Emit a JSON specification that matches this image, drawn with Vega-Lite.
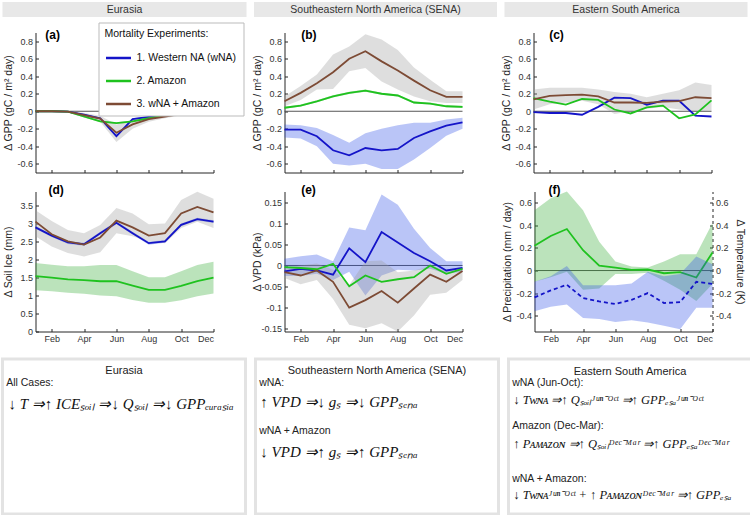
{
"$schema": "https://vega.github.io/schema/vega-lite/v6.json",
"padding": {"left": 0.5, "top": 2, "right": 0, "bottom": 0},
"background": "white",
"datasets": {
"a": [
{"m":1,"s":"wNA","v":0,"lo":-0.008,"hi":0.008},{"m":2,"s":"wNA","v":0,"lo":-0.008,"hi":0.008},{"m":3,"s":"wNA","v":-0.005,"lo":-0.013,"hi":0.003},{"m":4,"s":"wNA","v":-0.04,"lo":-0.048,"hi":-0.032},{"m":5,"s":"wNA","v":-0.08,"lo":-0.09,"hi":-0.07},{"m":6,"s":"wNA","v":-0.285,"lo":-0.3,"hi":-0.27},{"m":7,"s":"wNA","v":-0.09,"lo":-0.1,"hi":-0.08},{"m":8,"s":"wNA","v":-0.065,"lo":-0.073,"hi":-0.057},{"m":9,"s":"wNA","v":-0.045,"lo":-0.053,"hi":-0.037},{"m":10,"s":"wNA","v":-0.025,"lo":-0.033,"hi":-0.017},{"m":11,"s":"wNA","v":-0.005,"lo":-0.013,"hi":0.003},{"m":12,"s":"wNA","v":0,"lo":-0.008,"hi":0.008},
{"m":1,"s":"Amazon","v":0,"lo":-0.008,"hi":0.008},{"m":2,"s":"Amazon","v":0,"lo":-0.008,"hi":0.008},{"m":3,"s":"Amazon","v":-0.005,"lo":-0.013,"hi":0.003},{"m":4,"s":"Amazon","v":-0.06,"lo":-0.07,"hi":-0.05},{"m":5,"s":"Amazon","v":-0.115,"lo":-0.125,"hi":-0.105},{"m":6,"s":"Amazon","v":-0.135,"lo":-0.145,"hi":-0.125},{"m":7,"s":"Amazon","v":-0.115,"lo":-0.125,"hi":-0.105},{"m":8,"s":"Amazon","v":-0.08,"lo":-0.09,"hi":-0.07},{"m":9,"s":"Amazon","v":-0.05,"lo":-0.058,"hi":-0.042},{"m":10,"s":"Amazon","v":-0.02,"lo":-0.028,"hi":-0.012},{"m":11,"s":"Amazon","v":-0.005,"lo":-0.013,"hi":0.003},{"m":12,"s":"Amazon","v":0,"lo":-0.008,"hi":0.008},
{"m":1,"s":"wNA + Amazon","v":0,"lo":-0.005,"hi":0.005},{"m":2,"s":"wNA + Amazon","v":0,"lo":-0.005,"hi":0.005},{"m":3,"s":"wNA + Amazon","v":-0.005,"lo":-0.012,"hi":0.002},{"m":4,"s":"wNA + Amazon","v":-0.045,"lo":-0.07,"hi":-0.02},{"m":5,"s":"wNA + Amazon","v":-0.085,"lo":-0.12,"hi":-0.05},{"m":6,"s":"wNA + Amazon","v":-0.245,"lo":-0.35,"hi":-0.15},{"m":7,"s":"wNA + Amazon","v":-0.15,"lo":-0.2,"hi":-0.1},{"m":8,"s":"wNA + Amazon","v":-0.09,"lo":-0.12,"hi":-0.06},{"m":9,"s":"wNA + Amazon","v":-0.06,"lo":-0.08,"hi":-0.04},{"m":10,"s":"wNA + Amazon","v":-0.03,"lo":-0.045,"hi":-0.015},{"m":11,"s":"wNA + Amazon","v":-0.005,"lo":-0.012,"hi":0.002},{"m":12,"s":"wNA + Amazon","v":0,"lo":-0.005,"hi":0.005}
],
"b": [
{"m":1,"s":"wNA","v":-0.21,"lo":-0.3,"hi":-0.15},{"m":2,"s":"wNA","v":-0.21,"lo":-0.31,"hi":-0.16},{"m":3,"s":"wNA","v":-0.286,"lo":-0.4,"hi":-0.19},{"m":4,"s":"wNA","v":-0.446,"lo":-0.6,"hi":-0.27},{"m":5,"s":"wNA","v":-0.503,"lo":-0.62,"hi":-0.36},{"m":6,"s":"wNA","v":-0.42,"lo":-0.6,"hi":-0.25},{"m":7,"s":"wNA","v":-0.446,"lo":-0.66,"hi":-0.2},{"m":8,"s":"wNA","v":-0.43,"lo":-0.66,"hi":-0.16},{"m":9,"s":"wNA","v":-0.305,"lo":-0.55,"hi":-0.13},{"m":10,"s":"wNA","v":-0.23,"lo":-0.42,"hi":-0.13},{"m":11,"s":"wNA","v":-0.164,"lo":-0.28,"hi":-0.095},{"m":12,"s":"wNA","v":-0.126,"lo":-0.2,"hi":-0.075},
{"m":1,"s":"Amazon","v":0.04,"lo":0.028,"hi":0.052},{"m":2,"s":"Amazon","v":0.065,"lo":0.053,"hi":0.077},{"m":3,"s":"Amazon","v":0.114,"lo":0.102,"hi":0.126},{"m":4,"s":"Amazon","v":0.17,"lo":0.158,"hi":0.182},{"m":5,"s":"Amazon","v":0.21,"lo":0.198,"hi":0.222},{"m":6,"s":"Amazon","v":0.236,"lo":0.224,"hi":0.248},{"m":7,"s":"Amazon","v":0.2,"lo":0.188,"hi":0.212},{"m":8,"s":"Amazon","v":0.18,"lo":0.168,"hi":0.192},{"m":9,"s":"Amazon","v":0.1,"lo":0.088,"hi":0.112},{"m":10,"s":"Amazon","v":0.088,"lo":0.076,"hi":0.1},{"m":11,"s":"Amazon","v":0.057,"lo":0.045,"hi":0.069},{"m":12,"s":"Amazon","v":0.05,"lo":0.038,"hi":0.062},
{"m":1,"s":"wNA + Amazon","v":0.114,"lo":0.057,"hi":0.17},{"m":2,"s":"wNA + Amazon","v":0.21,"lo":0.13,"hi":0.29},{"m":3,"s":"wNA + Amazon","v":0.32,"lo":0.25,"hi":0.42},{"m":4,"s":"wNA + Amazon","v":0.446,"lo":0.255,"hi":0.65},{"m":5,"s":"wNA + Amazon","v":0.6,"lo":0.457,"hi":0.74},{"m":6,"s":"wNA + Amazon","v":0.686,"lo":0.495,"hi":0.88},{"m":7,"s":"wNA + Amazon","v":0.57,"lo":0.34,"hi":0.82},{"m":8,"s":"wNA + Amazon","v":0.465,"lo":0.25,"hi":0.7},{"m":9,"s":"wNA + Amazon","v":0.35,"lo":0.17,"hi":0.5},{"m":10,"s":"wNA + Amazon","v":0.24,"lo":0.114,"hi":0.36},{"m":11,"s":"wNA + Amazon","v":0.164,"lo":0.095,"hi":0.23},{"m":12,"s":"wNA + Amazon","v":0.164,"lo":0.095,"hi":0.23}
],
"c": [
{"m":1,"s":"wNA","v":-0.01},{"m":2,"s":"wNA","v":-0.02},{"m":3,"s":"wNA","v":-0.02},{"m":4,"s":"wNA","v":-0.04},{"m":5,"s":"wNA","v":0.05},{"m":6,"s":"wNA","v":0.155},{"m":7,"s":"wNA","v":0.15},{"m":8,"s":"wNA","v":0.075},{"m":9,"s":"wNA","v":0.12},{"m":10,"s":"wNA","v":0.12},{"m":11,"s":"wNA","v":-0.05},{"m":12,"s":"wNA","v":-0.06},
{"m":1,"s":"Amazon","v":0.15},{"m":2,"s":"Amazon","v":0.11},{"m":3,"s":"Amazon","v":0.075},{"m":4,"s":"Amazon","v":0.14},{"m":5,"s":"Amazon","v":0.13},{"m":6,"s":"Amazon","v":0.02},{"m":7,"s":"Amazon","v":-0.025},{"m":8,"s":"Amazon","v":0.045},{"m":9,"s":"Amazon","v":0.065},{"m":10,"s":"Amazon","v":-0.08},{"m":11,"s":"Amazon","v":-0.035},{"m":12,"s":"Amazon","v":0.125},
{"m":1,"s":"wNA + Amazon","v":0.135,"lo":0.02,"hi":0.25},{"m":2,"s":"wNA + Amazon","v":0.175,"lo":0.08,"hi":0.27},{"m":3,"s":"wNA + Amazon","v":0.185,"lo":0.1,"hi":0.27},{"m":4,"s":"wNA + Amazon","v":0.19,"lo":0.12,"hi":0.27},{"m":5,"s":"wNA + Amazon","v":0.17,"lo":0.08,"hi":0.25},{"m":6,"s":"wNA + Amazon","v":0.1,"lo":-0.03,"hi":0.22},{"m":7,"s":"wNA + Amazon","v":0.1,"lo":0.0,"hi":0.2},{"m":8,"s":"wNA + Amazon","v":0.095,"lo":0.03,"hi":0.16},{"m":9,"s":"wNA + Amazon","v":0.11,"lo":0.05,"hi":0.2},{"m":10,"s":"wNA + Amazon","v":0.115,"lo":0.02,"hi":0.24},{"m":11,"s":"wNA + Amazon","v":0.16,"lo":0.0,"hi":0.33},{"m":12,"s":"wNA + Amazon","v":0.15,"lo":0.01,"hi":0.3}
],
"d": [
{"m":1,"s":"wNA","v":2.9,"lo":2.86,"hi":2.94},{"m":2,"s":"wNA","v":2.67,"lo":2.63,"hi":2.71},{"m":3,"s":"wNA","v":2.48,"lo":2.44,"hi":2.52},{"m":4,"s":"wNA","v":2.43,"lo":2.39,"hi":2.47},{"m":5,"s":"wNA","v":2.74,"lo":2.7,"hi":2.78},{"m":6,"s":"wNA","v":3.03,"lo":2.99,"hi":3.07},{"m":7,"s":"wNA","v":2.74,"lo":2.7,"hi":2.78},{"m":8,"s":"wNA","v":2.46,"lo":2.42,"hi":2.5},{"m":9,"s":"wNA","v":2.51,"lo":2.47,"hi":2.55},{"m":10,"s":"wNA","v":2.97,"lo":2.93,"hi":3.01},{"m":11,"s":"wNA","v":3.13,"lo":3.09,"hi":3.17},{"m":12,"s":"wNA","v":3.06,"lo":3.02,"hi":3.1},
{"m":1,"s":"Amazon","v":1.54,"lo":1.15,"hi":1.91},{"m":2,"s":"Amazon","v":1.5,"lo":1.12,"hi":1.86},{"m":3,"s":"Amazon","v":1.45,"lo":1.08,"hi":1.82},{"m":4,"s":"Amazon","v":1.43,"lo":1.05,"hi":1.82},{"m":5,"s":"Amazon","v":1.4,"lo":1.0,"hi":1.85},{"m":6,"s":"Amazon","v":1.4,"lo":0.98,"hi":1.85},{"m":7,"s":"Amazon","v":1.28,"lo":0.88,"hi":1.68},{"m":8,"s":"Amazon","v":1.16,"lo":0.8,"hi":1.51},{"m":9,"s":"Amazon","v":1.16,"lo":0.8,"hi":1.51},{"m":10,"s":"Amazon","v":1.27,"lo":0.87,"hi":1.68},{"m":11,"s":"Amazon","v":1.4,"lo":0.98,"hi":1.85},{"m":12,"s":"Amazon","v":1.5,"lo":1.06,"hi":1.94},
{"m":1,"s":"wNA + Amazon","v":3.06,"lo":2.65,"hi":3.38},{"m":2,"s":"wNA + Amazon","v":2.71,"lo":2.37,"hi":3.08},{"m":3,"s":"wNA + Amazon","v":2.51,"lo":2.19,"hi":2.83},{"m":4,"s":"wNA + Amazon","v":2.42,"lo":2.09,"hi":2.74},{"m":5,"s":"wNA + Amazon","v":2.62,"lo":2.21,"hi":2.97},{"m":6,"s":"wNA + Amazon","v":3.09,"lo":2.74,"hi":3.44},{"m":7,"s":"wNA + Amazon","v":2.9,"lo":2.65,"hi":3.29},{"m":8,"s":"wNA + Amazon","v":2.67,"lo":2.51,"hi":2.99},{"m":9,"s":"wNA + Amazon","v":2.74,"lo":2.46,"hi":3.01},{"m":10,"s":"wNA + Amazon","v":3.29,"lo":2.88,"hi":3.66},{"m":11,"s":"wNA + Amazon","v":3.47,"lo":3.06,"hi":3.89},{"m":12,"s":"wNA + Amazon","v":3.32,"lo":2.88,"hi":3.7}
],
"e": [
{"m":1,"s":"wNA","v":-0.014,"lo":-0.025,"hi":0.016},{"m":2,"s":"wNA","v":-0.008,"lo":-0.025,"hi":0.022},{"m":3,"s":"wNA","v":-0.012,"lo":-0.02,"hi":0.026},{"m":4,"s":"wNA","v":-0.022,"lo":-0.035,"hi":0.01},{"m":5,"s":"wNA","v":0.041,"lo":-0.015,"hi":0.091},{"m":6,"s":"wNA","v":0.008,"lo":-0.072,"hi":0.084},{"m":7,"s":"wNA","v":0.08,"lo":-0.024,"hi":0.17},{"m":8,"s":"wNA","v":0.055,"lo":-0.01,"hi":0.145},{"m":9,"s":"wNA","v":0.03,"lo":-0.012,"hi":0.088},{"m":10,"s":"wNA","v":0.01,"lo":-0.008,"hi":0.042},{"m":11,"s":"wNA","v":-0.012,"lo":-0.02,"hi":0.01},{"m":12,"s":"wNA","v":-0.006,"lo":-0.015,"hi":0.01},
{"m":1,"s":"Amazon","v":-0.004},{"m":2,"s":"Amazon","v":-0.006},{"m":3,"s":"Amazon","v":-0.009},{"m":4,"s":"Amazon","v":0.004},{"m":5,"s":"Amazon","v":-0.05},{"m":6,"s":"Amazon","v":-0.024},{"m":7,"s":"Amazon","v":-0.039},{"m":8,"s":"Amazon","v":-0.033},{"m":9,"s":"Amazon","v":-0.028},{"m":10,"s":"Amazon","v":0.0},{"m":11,"s":"Amazon","v":-0.02},{"m":12,"s":"Amazon","v":-0.008},
{"m":1,"s":"wNA + Amazon","v":-0.016,"lo":-0.03,"hi":-0.005},{"m":2,"s":"wNA + Amazon","v":-0.024,"lo":-0.045,"hi":0.0},{"m":3,"s":"wNA + Amazon","v":-0.012,"lo":-0.035,"hi":0.005},{"m":4,"s":"wNA + Amazon","v":-0.039,"lo":-0.08,"hi":-0.01},{"m":5,"s":"wNA + Amazon","v":-0.101,"lo":-0.142,"hi":-0.047},{"m":6,"s":"wNA + Amazon","v":-0.083,"lo":-0.15,"hi":0.01},{"m":7,"s":"wNA + Amazon","v":-0.061,"lo":-0.138,"hi":0.012},{"m":8,"s":"wNA + Amazon","v":-0.089,"lo":-0.158,"hi":-0.016},{"m":9,"s":"wNA + Amazon","v":-0.055,"lo":-0.12,"hi":-0.012},{"m":10,"s":"wNA + Amazon","v":-0.022,"lo":-0.07,"hi":-0.002},{"m":11,"s":"wNA + Amazon","v":-0.039,"lo":-0.065,"hi":-0.012},{"m":12,"s":"wNA + Amazon","v":-0.013,"lo":-0.035,"hi":-0.004}
],
"f": [
{"m":1,"s":"Amazon","v":0.22,"lo":-0.1,"hi":0.535},{"m":2,"s":"Amazon","v":0.306,"lo":-0.06,"hi":0.64},{"m":3,"s":"Amazon","v":0.368,"lo":-0.01,"hi":0.7},{"m":4,"s":"Amazon","v":0.18,"lo":-0.17,"hi":0.535},{"m":5,"s":"Amazon","v":0.044,"lo":-0.16,"hi":0.256},{"m":6,"s":"Amazon","v":0.026,"lo":-0.03,"hi":0.08},{"m":7,"s":"Amazon","v":0.006,"lo":-0.03,"hi":0.035},{"m":8,"s":"Amazon","v":0.009,"lo":-0.02,"hi":0.026},{"m":9,"s":"Amazon","v":-0.024,"lo":-0.09,"hi":0.08},{"m":10,"s":"Amazon","v":-0.015,"lo":-0.17,"hi":0.144},{"m":11,"s":"Amazon","v":-0.062,"lo":-0.27,"hi":0.144},{"m":12,"s":"Amazon","v":0.16,"lo":-0.12,"hi":0.42},
{"m":1,"s":"wNA","v":-0.238,"lo":-0.36,"hi":-0.1},{"m":2,"s":"wNA","v":-0.176,"lo":-0.32,"hi":-0.05},{"m":3,"s":"wNA","v":-0.126,"lo":-0.3,"hi":0.04},{"m":4,"s":"wNA","v":-0.244,"lo":-0.42,"hi":-0.13},{"m":5,"s":"wNA","v":-0.274,"lo":-0.43,"hi":-0.13},{"m":6,"s":"wNA","v":-0.297,"lo":-0.455,"hi":-0.13},{"m":7,"s":"wNA","v":-0.26,"lo":-0.44,"hi":-0.115},{"m":8,"s":"wNA","v":-0.2,"lo":-0.46,"hi":-0.01},{"m":9,"s":"wNA","v":-0.288,"lo":-0.49,"hi":-0.05},{"m":10,"s":"wNA","v":-0.28,"lo":-0.52,"hi":-0.03},{"m":11,"s":"wNA","v":-0.1,"lo":-0.33,"hi":0.125},{"m":12,"s":"wNA","v":-0.118,"lo":-0.33,"hi":0.055}
]
},
"vconcat": [
{"vconcat": [
 {"hconcat": [
  {"width": 244, "height": 15, "view": {"fill": "#e8e8e8", "stroke": null},
   "data": {"values": [{"t": "Eurasia"}]},
   "mark": {"type": "text", "fontSize": 10.5, "color": "#333"},
   "encoding": {"x": {"datum": 0.5, "type": "quantitative", "scale": {"domain": [0, 1]}, "axis": null}, "y": {"datum": 0.5, "type": "quantitative", "scale": {"domain": [0, 1]}, "axis": null}, "text": {"field": "t"}}},
  {"width": 243, "height": 15, "view": {"fill": "#e8e8e8", "stroke": null},
   "data": {"values": [{"t": "Southeastern North America (SENA)"}]},
   "mark": {"type": "text", "fontSize": 10.5, "color": "#333"},
   "encoding": {"x": {"datum": 0.5, "type": "quantitative", "scale": {"domain": [0, 1]}, "axis": null}, "y": {"datum": 0.5, "type": "quantitative", "scale": {"domain": [0, 1]}, "axis": null}, "text": {"field": "t"}}},
  {"width": 243, "height": 15, "view": {"fill": "#e8e8e8", "stroke": null},
   "data": {"values": [{"t": "Eastern South America"}]},
   "mark": {"type": "text", "fontSize": 10.5, "color": "#333"},
   "encoding": {"x": {"datum": 0.5, "type": "quantitative", "scale": {"domain": [0, 1]}, "axis": null}, "y": {"datum": 0.5, "type": "quantitative", "scale": {"domain": [0, 1]}, "axis": null}, "text": {"field": "t"}}}
 ], "spacing": 7.5},
 {"concat": [
  {"hconcat": [
   {"width": 1, "height": 140, "data": {"values": []}, "mark": "rect"},
   {"width": 178, "height": 140, "data": {"name": "a"},
   "layer": [
    {"data": {"values": [{"z": 0}]}, "mark": {"type": "rule", "color": "#555", "strokeWidth": 1},
     "encoding": {"y": {"field": "z", "type": "quantitative", "scale": {"domain": [-0.7, 0.9], "nice": false}, "axis": {"values": [-0.6,-0.4,-0.2,0,0.2,0.4,0.6,0.8], "labelExpr": "'' + datum.value", "title": "Δ GPP (gC / m² day)"}}}},
    {"transform": [{"filter": "isValid(datum.lo)"}], "mark": {"type": "area", "fillOpacity": 0.33},
     "encoding": {"x": {"field": "m", "type": "quantitative", "scale": {"domain": [1, 12], "nice": false}, "axis": {"values": [2,4,6,8,10,12], "labels": false, "title": null}},
      "y": {"field": "lo", "type": "quantitative", "scale": {"domain": [-0.7, 0.9], "nice": false}, "axis": {"values": [-0.6,-0.4,-0.2,0,0.2,0.4,0.6,0.8], "labelExpr": "'' + datum.value", "title": "Δ GPP (gC / m² day)"}}, "y2": {"field": "hi"},
      "fill": {"field": "s", "type": "nominal", "scale": {"domain": ["wNA", "Amazon", "wNA + Amazon"], "range": ["#2f50e6", "#30aa30", "#9a9a9a"]}, "legend": null}}},
    {"mark": {"type": "line", "strokeWidth": 1.8},
     "encoding": {"x": {"field": "m", "type": "quantitative", "scale": {"domain": [1, 12], "nice": false}, "axis": {"values": [2,4,6,8,10,12], "labels": false, "title": null}},
      "y": {"field": "v", "type": "quantitative", "scale": {"domain": [-0.7, 0.9], "nice": false}, "axis": {"values": [-0.6,-0.4,-0.2,0,0.2,0.4,0.6,0.8], "labelExpr": "'' + datum.value", "title": "Δ GPP (gC / m² day)"}},
      "color": {"field": "s", "type": "nominal", "scale": {"domain": ["wNA", "Amazon", "wNA + Amazon"], "range": ["#1414c8", "#1fc21f", "#7d4b35"]},
       "legend": {"orient": "none", "legendX": 63, "legendY": -10, "title": "Mortality Experiments:", "labelExpr": "datum.label == 'wNA' ? '1. Western NA (wNA)' : datum.label == 'Amazon' ? '2. Amazon' : '3. wNA + Amazon'", "titleFontSize": 10.5, "titleFontWeight": "normal", "titleColor": "#111", "labelFontSize": 10.5, "labelColor": "#111", "symbolType": "stroke", "symbolStrokeWidth": 2.5, "symbolSize": 625, "padding": 6, "fillColor": "white", "strokeColor": "#bbbbbb", "rowPadding": 3, "titlePadding": 5, "labelOffset": 4}}}},
    {"data": {"values": [{"t": "(a)"}]}, "mark": {"type": "text", "fontSize": 12, "fontWeight": "bold", "align": "left", "baseline": "middle", "color": "black"},
     "encoding": {"x": {"datum": 1.6, "type": "quantitative", "scale": {"domain": [1, 12], "nice": false}, "axis": {"values": [2,4,6,8,10,12], "labels": false, "title": null}}, "y": {"datum": 0.877, "type": "quantitative", "scale": {"domain": [-0.7, 0.9], "nice": false}, "axis": {"values": [-0.6,-0.4,-0.2,0,0.2,0.4,0.6,0.8], "labelExpr": "'' + datum.value", "title": "Δ GPP (gC / m² day)"}}, "text": {"field": "t"}}}
   ]}
  ], "spacing": 0, "resolve": {"scale": {"color": "independent"}, "legend": {"color": "independent"}}},
  {"hconcat": [
   {"width": 1, "height": 140, "data": {"values": []}, "mark": "rect"},
   {"width": 178, "height": 140, "data": {"name": "b"},
   "layer": [
    {"data": {"values": [{"z": 0}]}, "mark": {"type": "rule", "color": "#555", "strokeWidth": 1},
     "encoding": {"y": {"field": "z", "type": "quantitative", "scale": {"domain": [-0.7, 0.9], "nice": false}, "axis": {"values": [-0.6,-0.4,-0.2,0,0.2,0.4,0.6,0.8], "labelExpr": "'' + datum.value", "title": "Δ GPP (gC / m² day)"}}}},
    {"transform": [{"filter": "isValid(datum.lo)"}], "mark": {"type": "area", "fillOpacity": 0.33},
     "encoding": {"x": {"field": "m", "type": "quantitative", "scale": {"domain": [1, 12], "nice": false}, "axis": {"values": [2,4,6,8,10,12], "labels": false, "title": null}},
      "y": {"field": "lo", "type": "quantitative", "scale": {"domain": [-0.7, 0.9], "nice": false}, "axis": {"values": [-0.6,-0.4,-0.2,0,0.2,0.4,0.6,0.8], "labelExpr": "'' + datum.value", "title": "Δ GPP (gC / m² day)"}}, "y2": {"field": "hi"},
      "fill": {"field": "s", "type": "nominal", "scale": {"domain": ["wNA", "Amazon", "wNA + Amazon"], "range": ["#2f50e6", "#30aa30", "#9a9a9a"]}, "legend": null}}},
    {"mark": {"type": "line", "strokeWidth": 1.8},
     "encoding": {"x": {"field": "m", "type": "quantitative", "scale": {"domain": [1, 12], "nice": false}, "axis": {"values": [2,4,6,8,10,12], "labels": false, "title": null}},
      "y": {"field": "v", "type": "quantitative", "scale": {"domain": [-0.7, 0.9], "nice": false}, "axis": {"values": [-0.6,-0.4,-0.2,0,0.2,0.4,0.6,0.8], "labelExpr": "'' + datum.value", "title": "Δ GPP (gC / m² day)"}},
      "stroke": {"field": "s", "type": "nominal", "scale": {"domain": ["wNA", "Amazon", "wNA + Amazon"], "range": ["#1414c8", "#1fc21f", "#7d4b35"]}, "legend": null}}},
    {"data": {"values": [{"t": "(b)"}]}, "mark": {"type": "text", "fontSize": 12, "fontWeight": "bold", "align": "left", "baseline": "middle", "color": "black"},
     "encoding": {"x": {"datum": 2.03, "type": "quantitative", "scale": {"domain": [1, 12], "nice": false}, "axis": {"values": [2,4,6,8,10,12], "labels": false, "title": null}}, "y": {"datum": 0.877, "type": "quantitative", "scale": {"domain": [-0.7, 0.9], "nice": false}, "axis": {"values": [-0.6,-0.4,-0.2,0,0.2,0.4,0.6,0.8], "labelExpr": "'' + datum.value", "title": "Δ GPP (gC / m² day)"}}, "text": {"field": "t"}}}
   ]}
  ], "spacing": 0},
  {"hconcat": [
   {"width": 1, "height": 140, "data": {"values": []}, "mark": "rect"},
   {"width": 178, "height": 140, "data": {"name": "c"},
   "layer": [
    {"data": {"values": [{"z": 0}]}, "mark": {"type": "rule", "color": "#555", "strokeWidth": 1},
     "encoding": {"y": {"field": "z", "type": "quantitative", "scale": {"domain": [-0.7, 0.9], "nice": false}, "axis": {"values": [-0.6,-0.4,-0.2,0,0.2,0.4,0.6,0.8], "labelExpr": "'' + datum.value", "title": "Δ GPP (gC / m² day)"}}}},
    {"transform": [{"filter": "isValid(datum.lo)"}], "mark": {"type": "area", "fillOpacity": 0.33},
     "encoding": {"x": {"field": "m", "type": "quantitative", "scale": {"domain": [1, 12], "nice": false}, "axis": {"values": [2,4,6,8,10,12], "labels": false, "title": null}},
      "y": {"field": "lo", "type": "quantitative", "scale": {"domain": [-0.7, 0.9], "nice": false}, "axis": {"values": [-0.6,-0.4,-0.2,0,0.2,0.4,0.6,0.8], "labelExpr": "'' + datum.value", "title": "Δ GPP (gC / m² day)"}}, "y2": {"field": "hi"},
      "fill": {"field": "s", "type": "nominal", "scale": {"domain": ["wNA", "Amazon", "wNA + Amazon"], "range": ["#2f50e6", "#30aa30", "#9a9a9a"]}, "legend": null}}},
    {"mark": {"type": "line", "strokeWidth": 1.8},
     "encoding": {"x": {"field": "m", "type": "quantitative", "scale": {"domain": [1, 12], "nice": false}, "axis": {"values": [2,4,6,8,10,12], "labels": false, "title": null}},
      "y": {"field": "v", "type": "quantitative", "scale": {"domain": [-0.7, 0.9], "nice": false}, "axis": {"values": [-0.6,-0.4,-0.2,0,0.2,0.4,0.6,0.8], "labelExpr": "'' + datum.value", "title": "Δ GPP (gC / m² day)"}},
      "stroke": {"field": "s", "type": "nominal", "scale": {"domain": ["wNA", "Amazon", "wNA + Amazon"], "range": ["#1414c8", "#1fc21f", "#7d4b35"]}, "legend": null}}},
    {"data": {"values": [{"t": "(c)"}]}, "mark": {"type": "text", "fontSize": 12, "fontWeight": "bold", "align": "left", "baseline": "middle", "color": "black"},
     "encoding": {"x": {"datum": 1.97, "type": "quantitative", "scale": {"domain": [1, 12], "nice": false}, "axis": {"values": [2,4,6,8,10,12], "labels": false, "title": null}}, "y": {"datum": 0.877, "type": "quantitative", "scale": {"domain": [-0.7, 0.9], "nice": false}, "axis": {"values": [-0.6,-0.4,-0.2,0,0.2,0.4,0.6,0.8], "labelExpr": "'' + datum.value", "title": "Δ GPP (gC / m² day)"}}, "text": {"field": "t"}}}
   ]}
  ], "spacing": 0},
  {"hconcat": [
   {"width": 1, "height": 140, "data": {"values": []}, "mark": "rect"},
   {"width": 178, "height": 140, "data": {"name": "d"},
   "layer": [
    {"transform": [{"filter": "isValid(datum.lo)"}], "mark": {"type": "area", "fillOpacity": 0.33},
     "encoding": {"x": {"field": "m", "type": "quantitative", "scale": {"domain": [1, 12], "nice": false}, "axis": {"values": [2,4,6,8,10,12], "labelExpr": "['','Jan','Feb','Mar','Apr','May','Jun','Jul','Aug','Sep','Oct','Nov','Dec'][datum.value]", "title": null}},
      "y": {"field": "lo", "type": "quantitative", "scale": {"domain": [0, 3.9], "nice": false}, "axis": {"values": [0,0.5,1,1.5,2,2.5,3,3.5], "labelExpr": "'' + datum.value", "title": "Δ Soil Ice (mm)"}}, "y2": {"field": "hi"},
      "fill": {"field": "s", "type": "nominal", "scale": {"domain": ["wNA", "Amazon", "wNA + Amazon"], "range": ["#2f50e6", "#30aa30", "#9a9a9a"]}, "legend": null}}},
    {"mark": {"type": "line", "strokeWidth": 1.8},
     "encoding": {"x": {"field": "m", "type": "quantitative", "scale": {"domain": [1, 12], "nice": false}, "axis": {"values": [2,4,6,8,10,12], "labelExpr": "['','Jan','Feb','Mar','Apr','May','Jun','Jul','Aug','Sep','Oct','Nov','Dec'][datum.value]", "title": null}},
      "y": {"field": "v", "type": "quantitative", "scale": {"domain": [0, 3.9], "nice": false}, "axis": {"values": [0,0.5,1,1.5,2,2.5,3,3.5], "labelExpr": "'' + datum.value", "title": "Δ Soil Ice (mm)"}},
      "stroke": {"field": "s", "type": "nominal", "scale": {"domain": ["wNA", "Amazon", "wNA + Amazon"], "range": ["#1414c8", "#1fc21f", "#7d4b35"]}, "legend": null}}},
    {"data": {"values": [{"t": "(d)"}]}, "mark": {"type": "text", "fontSize": 12, "fontWeight": "bold", "align": "left", "baseline": "middle", "color": "black"},
     "encoding": {"x": {"datum": 1.8, "type": "quantitative", "scale": {"domain": [1, 12], "nice": false}, "axis": {"values": [2,4,6,8,10,12], "labelExpr": "['','Jan','Feb','Mar','Apr','May','Jun','Jul','Aug','Sep','Oct','Nov','Dec'][datum.value]", "title": null}}, "y": {"datum": 3.94, "type": "quantitative", "scale": {"domain": [0, 3.9], "nice": false}, "axis": {"values": [0,0.5,1,1.5,2,2.5,3,3.5], "labelExpr": "'' + datum.value", "title": "Δ Soil Ice (mm)"}}, "text": {"field": "t"}}}
   ]}
  ], "spacing": 0},
  {"hconcat": [
   {"width": 1, "height": 140, "data": {"values": []}, "mark": "rect"},
   {"width": 178, "height": 140, "data": {"name": "e"},
   "layer": [
    {"data": {"values": [{"z": 0}]}, "mark": {"type": "rule", "color": "#555", "strokeWidth": 1},
     "encoding": {"y": {"field": "z", "type": "quantitative", "scale": {"domain": [-0.158, 0.177], "nice": false}, "axis": {"values": [-0.15,-0.1,-0.05,0,0.05,0.1,0.15], "labelExpr": "'' + datum.value", "title": "Δ VPD (kPa)"}}}},
    {"transform": [{"filter": "isValid(datum.lo)"}], "mark": {"type": "area", "fillOpacity": 0.33},
     "encoding": {"x": {"field": "m", "type": "quantitative", "scale": {"domain": [1, 12], "nice": false}, "axis": {"values": [2,4,6,8,10,12], "labelExpr": "['','Jan','Feb','Mar','Apr','May','Jun','Jul','Aug','Sep','Oct','Nov','Dec'][datum.value]", "title": null}},
      "y": {"field": "lo", "type": "quantitative", "scale": {"domain": [-0.158, 0.177], "nice": false}, "axis": {"values": [-0.15,-0.1,-0.05,0,0.05,0.1,0.15], "labelExpr": "'' + datum.value", "title": "Δ VPD (kPa)"}}, "y2": {"field": "hi"},
      "fill": {"field": "s", "type": "nominal", "scale": {"domain": ["wNA", "Amazon", "wNA + Amazon"], "range": ["#2f50e6", "#30aa30", "#9a9a9a"]}, "legend": null}}},
    {"mark": {"type": "line", "strokeWidth": 1.8},
     "encoding": {"x": {"field": "m", "type": "quantitative", "scale": {"domain": [1, 12], "nice": false}, "axis": {"values": [2,4,6,8,10,12], "labelExpr": "['','Jan','Feb','Mar','Apr','May','Jun','Jul','Aug','Sep','Oct','Nov','Dec'][datum.value]", "title": null}},
      "y": {"field": "v", "type": "quantitative", "scale": {"domain": [-0.158, 0.177], "nice": false}, "axis": {"values": [-0.15,-0.1,-0.05,0,0.05,0.1,0.15], "labelExpr": "'' + datum.value", "title": "Δ VPD (kPa)"}},
      "stroke": {"field": "s", "type": "nominal", "scale": {"domain": ["wNA", "Amazon", "wNA + Amazon"], "range": ["#1414c8", "#1fc21f", "#7d4b35"]}, "legend": null}}},
    {"data": {"values": [{"t": "(e)"}]}, "mark": {"type": "text", "fontSize": 12, "fontWeight": "bold", "align": "left", "baseline": "middle", "color": "black"},
     "encoding": {"x": {"datum": 2.03, "type": "quantitative", "scale": {"domain": [1, 12], "nice": false}, "axis": {"values": [2,4,6,8,10,12], "labelExpr": "['','Jan','Feb','Mar','Apr','May','Jun','Jul','Aug','Sep','Oct','Nov','Dec'][datum.value]", "title": null}}, "y": {"datum": 0.18, "type": "quantitative", "scale": {"domain": [-0.158, 0.177], "nice": false}, "axis": {"values": [-0.15,-0.1,-0.05,0,0.05,0.1,0.15], "labelExpr": "'' + datum.value", "title": "Δ VPD (kPa)"}}, "text": {"field": "t"}}}
   ]}
  ], "spacing": 0},
  {"hconcat": [
   {"width": 1, "height": 140, "data": {"values": []}, "mark": "rect"},
   {"width": 178, "height": 140, "data": {"name": "f"},
   "layer": [
    {"layer": [
      {"data": {"values": [{"z": 0}]}, "mark": {"type": "rule", "color": "#555", "strokeWidth": 1},
       "encoding": {"y": {"field": "z", "type": "quantitative", "scale": {"domain": [-0.54, 0.7], "nice": false}, "axis": {"values": [-0.4,-0.2,0,0.2,0.4,0.6], "labelExpr": "'' + datum.value", "title": "Δ Precipitation (mm / day)"}}}},
      {"transform": [{"filter": "datum.s == 'Amazon'"}], "mark": {"type": "area", "fillOpacity": 0.33},
       "encoding": {"x": {"field": "m", "type": "quantitative", "scale": {"domain": [1, 12], "nice": false}, "axis": {"values": [2,4,6,8,10,12], "labelExpr": "['','Jan','Feb','Mar','Apr','May','Jun','Jul','Aug','Sep','Oct','Nov','Dec'][datum.value]", "title": null}},
        "y": {"field": "lo", "type": "quantitative", "scale": {"domain": [-0.54, 0.7], "nice": false}, "axis": {"values": [-0.4,-0.2,0,0.2,0.4,0.6], "labelExpr": "'' + datum.value", "title": "Δ Precipitation (mm / day)"}}, "y2": {"field": "hi"},
        "fill": {"field": "s", "type": "nominal", "scale": {"domain": ["wNA", "Amazon", "wNA + Amazon"], "range": ["#2f50e6", "#30aa30", "#9a9a9a"]}, "legend": null}}},
      {"transform": [{"filter": "datum.s == 'Amazon'"}], "mark": {"type": "line", "strokeWidth": 1.8},
       "encoding": {"x": {"field": "m", "type": "quantitative", "scale": {"domain": [1, 12], "nice": false}, "axis": {"values": [2,4,6,8,10,12], "labelExpr": "['','Jan','Feb','Mar','Apr','May','Jun','Jul','Aug','Sep','Oct','Nov','Dec'][datum.value]", "title": null}},
        "y": {"field": "v", "type": "quantitative", "scale": {"domain": [-0.54, 0.7], "nice": false}, "axis": {"values": [-0.4,-0.2,0,0.2,0.4,0.6], "labelExpr": "'' + datum.value", "title": "Δ Precipitation (mm / day)"}},
        "stroke": {"field": "s", "type": "nominal", "scale": {"domain": ["wNA", "Amazon", "wNA + Amazon"], "range": ["#1414c8", "#1fc21f", "#7d4b35"]}, "legend": null}}},
      {"data": {"values": [{"t": "(f)"}]}, "mark": {"type": "text", "fontSize": 12, "fontWeight": "bold", "align": "left", "baseline": "middle", "color": "black"},
       "encoding": {"x": {"datum": 1.86, "type": "quantitative", "scale": {"domain": [1, 12], "nice": false}, "axis": {"values": [2,4,6,8,10,12], "labelExpr": "['','Jan','Feb','Mar','Apr','May','Jun','Jul','Aug','Sep','Oct','Nov','Dec'][datum.value]", "title": null}}, "y": {"datum": 0.71, "type": "quantitative", "scale": {"domain": [-0.54, 0.7], "nice": false}, "axis": {"values": [-0.4,-0.2,0,0.2,0.4,0.6], "labelExpr": "'' + datum.value", "title": "Δ Precipitation (mm / day)"}}, "text": {"field": "t"}}}
    ]},
    {"layer": [
      {"transform": [{"filter": "datum.s == 'wNA'"}], "mark": {"type": "area", "fillOpacity": 0.33},
       "encoding": {"x": {"field": "m", "type": "quantitative", "scale": {"domain": [1, 12], "nice": false}, "axis": {"values": [2,4,6,8,10,12], "labelExpr": "['','Jan','Feb','Mar','Apr','May','Jun','Jul','Aug','Sep','Oct','Nov','Dec'][datum.value]", "title": null}},
        "y": {"field": "lo", "type": "quantitative", "scale": {"domain": [-0.54, 0.7], "nice": false}, "axis": {"orient": "right", "values": [-0.4,-0.2,0,0.2,0.4,0.6], "labelExpr": "'' + datum.value", "domainDash": [3, 3], "title": "Δ Temperature (K)"}}, "y2": {"field": "hi"},
        "fill": {"field": "s", "type": "nominal", "scale": {"domain": ["wNA", "Amazon", "wNA + Amazon"], "range": ["#2f50e6", "#30aa30", "#9a9a9a"]}, "legend": null}}},
      {"transform": [{"filter": "datum.s == 'wNA'"}], "mark": {"type": "line", "strokeWidth": 1.8, "strokeDash": [4, 3]},
       "encoding": {"x": {"field": "m", "type": "quantitative", "scale": {"domain": [1, 12], "nice": false}, "axis": {"values": [2,4,6,8,10,12], "labelExpr": "['','Jan','Feb','Mar','Apr','May','Jun','Jul','Aug','Sep','Oct','Nov','Dec'][datum.value]", "title": null}},
        "y": {"field": "v", "type": "quantitative", "scale": {"domain": [-0.54, 0.7], "nice": false}, "axis": {"orient": "right", "values": [-0.4,-0.2,0,0.2,0.4,0.6], "labelExpr": "'' + datum.value", "domainDash": [3, 3], "title": "Δ Temperature (K)"}},
        "stroke": {"field": "s", "type": "nominal", "scale": {"domain": ["wNA", "Amazon", "wNA + Amazon"], "range": ["#1414c8", "#1fc21f", "#7d4b35"]}, "legend": null}}}
    ]}
   ],
   "resolve": {"scale": {"y": "independent"}}}
  ], "spacing": 0}
 ], "columns": 3, "align": {"row": "each", "column": "all"}, "spacing": {"row": 10, "column": 5},
 "resolve": {"scale": {"color": "independent"}, "legend": {"color": "independent"}}}
], "spacing": 4.5, "resolve": {"scale": {"color": "independent"}, "legend": {"color": "independent"}}},
{"hconcat": [
 {"width": 243, "height": 155, "view": {"stroke": "#e3e3e3", "strokeWidth": 3, "fill": "white"},
  "data": {"values": [{"line": 1.08, "kind": "title", "t": "Eurasia"}, {"line": 2.17, "kind": "label", "t": "All Cases:"}, {"line": 4.07, "kind": "eq", "t": "↓ T ⇒↑ ICEₛₒᵢₗ ⇒↓ Qₛₒᵢₗ ⇒↓ GPPₑᵤᵣₐₛᵢₐ"}]},
  "layer": [
   {"transform": [{"filter": "datum.kind == 'title'"}], "mark": {"type": "text", "fontSize": 11, "align": "center", "baseline": "middle", "color": "#222"},
    "encoding": {"x": {"datum": 0.5, "type": "quantitative", "scale": {"domain": [0, 1]}, "axis": null}, "y": {"field": "line", "type": "quantitative", "scale": {"domain": [0, 14], "reverse": true}, "axis": null}, "text": {"field": "t"}}},
   {"transform": [{"filter": "datum.kind == 'label'"}], "mark": {"type": "text", "fontSize": 10.5, "align": "left", "baseline": "middle", "color": "#222"},
    "encoding": {"x": {"datum": 0.015, "type": "quantitative", "scale": {"domain": [0, 1]}, "axis": null}, "y": {"field": "line", "type": "quantitative", "scale": {"domain": [0, 14], "reverse": true}, "axis": null}, "text": {"field": "t"}}},
   {"transform": [{"filter": "datum.kind == 'eq'"}], "mark": {"type": "text", "fontSize": 15, "font": "Liberation Serif", "fontStyle": "italic", "align": "left", "baseline": "middle", "color": "#111"},
    "encoding": {"x": {"datum": 0.025, "type": "quantitative", "scale": {"domain": [0, 1]}, "axis": null}, "y": {"field": "line", "type": "quantitative", "scale": {"domain": [0, 14], "reverse": true}, "axis": null}, "text": {"field": "t"}}}
  ]},
 {"width": 243, "height": 155, "view": {"stroke": "#e3e3e3", "strokeWidth": 3, "fill": "white"},
  "data": {"values": [{"line": 1.08, "kind": "title", "t": "Southeastern North America (SENA)"}, {"line": 2.17, "kind": "label", "t": "wNA:"}, {"line": 3.9, "kind": "eq", "t": "↑ VPD ⇒↓ gₛ ⇒↓ GPPₛₑₙₐ"}, {"line": 6.5, "kind": "label", "t": "wNA + Amazon"}, {"line": 8.4, "kind": "eq", "t": "↓ VPD ⇒↑ gₛ ⇒↑ GPPₛₑₙₐ"}]},
  "layer": [
   {"transform": [{"filter": "datum.kind == 'title'"}], "mark": {"type": "text", "fontSize": 11, "align": "center", "baseline": "middle", "color": "#222"},
    "encoding": {"x": {"datum": 0.5, "type": "quantitative", "scale": {"domain": [0, 1]}, "axis": null}, "y": {"field": "line", "type": "quantitative", "scale": {"domain": [0, 14], "reverse": true}, "axis": null}, "text": {"field": "t"}}},
   {"transform": [{"filter": "datum.kind == 'label'"}], "mark": {"type": "text", "fontSize": 10.5, "align": "left", "baseline": "middle", "color": "#222"},
    "encoding": {"x": {"datum": 0.015, "type": "quantitative", "scale": {"domain": [0, 1]}, "axis": null}, "y": {"field": "line", "type": "quantitative", "scale": {"domain": [0, 14], "reverse": true}, "axis": null}, "text": {"field": "t"}}},
   {"transform": [{"filter": "datum.kind == 'eq'"}], "mark": {"type": "text", "fontSize": 15, "font": "Liberation Serif", "fontStyle": "italic", "align": "left", "baseline": "middle", "color": "#111"},
    "encoding": {"x": {"datum": 0.02, "type": "quantitative", "scale": {"domain": [0, 1]}, "axis": null}, "y": {"field": "line", "type": "quantitative", "scale": {"domain": [0, 14], "reverse": true}, "axis": null}, "text": {"field": "t"}}}
  ]},
 {"width": 243, "height": 155, "view": {"stroke": "#e3e3e3", "strokeWidth": 3, "fill": "white"},
  "data": {"values": [{"line": 1.17, "kind": "title", "t": "Eastern South America"}, {"line": 2.17, "kind": "label", "t": "wNA (Jun-Oct):"}, {"line": 3.7, "kind": "eq", "t": "↓ Tᴡɴᴀ ⇒↑ Qₛₒᵢₗᴶᵘⁿ⁻ᴼᶜᵗ ⇒↑ GPPₑₛₐᴶᵘⁿ⁻ᴼᶜᵗ"}, {"line": 6.05, "kind": "label", "t": "Amazon (Dec-Mar):"}, {"line": 7.68, "kind": "eq", "t": "↑ Pᴀᴍᴀᴢᴏɴ ⇒↑ Qₛₒᵢₗᴰᵉᶜ⁻ᴹᵃʳ ⇒↑ GPPₑₛₐᴰᵉᶜ⁻ᴹᵃʳ"}, {"line": 10.84, "kind": "label", "t": "wNA + Amazon:"}, {"line": 12.29, "kind": "eq", "t": "↓ Tᴡɴᴀᴶᵘⁿ⁻ᴼᶜᵗ + ↑ Pᴀᴍᴀᴢᴏɴᴰᵉᶜ⁻ᴹᵃʳ ⇒↑ GPPₑₛₐ"}]},
  "layer": [
   {"transform": [{"filter": "datum.kind == 'title'"}], "mark": {"type": "text", "fontSize": 11, "align": "center", "baseline": "middle", "color": "#222"},
    "encoding": {"x": {"datum": 0.5, "type": "quantitative", "scale": {"domain": [0, 1]}, "axis": null}, "y": {"field": "line", "type": "quantitative", "scale": {"domain": [0, 14], "reverse": true}, "axis": null}, "text": {"field": "t"}}},
   {"transform": [{"filter": "datum.kind == 'label'"}], "mark": {"type": "text", "fontSize": 10.5, "align": "left", "baseline": "middle", "color": "#222"},
    "encoding": {"x": {"datum": 0.015, "type": "quantitative", "scale": {"domain": [0, 1]}, "axis": null}, "y": {"field": "line", "type": "quantitative", "scale": {"domain": [0, 14], "reverse": true}, "axis": null}, "text": {"field": "t"}}},
   {"transform": [{"filter": "datum.kind == 'eq'"}], "mark": {"type": "text", "fontSize": 12.5, "font": "Liberation Serif", "fontStyle": "italic", "align": "left", "baseline": "middle", "color": "#111"},
    "encoding": {"x": {"datum": 0.02, "type": "quantitative", "scale": {"domain": [0, 1]}, "axis": null}, "y": {"field": "line", "type": "quantitative", "scale": {"domain": [0, 14], "reverse": true}, "axis": null}, "text": {"field": "t"}}}
  ]}
], "spacing": 6}
],
"spacing": 13,
"resolve": {"scale": {"color": "independent"}, "legend": {"color": "independent"}},
"config": {
 "font": "Liberation Sans",
 "view": {"stroke": null},
 "axis": {"domainColor": "#262626", "tickColor": "#262626", "labelColor": "#333", "labelFontSize": 9, "titleFontSize": 10.5, "titleFontWeight": "normal", "titleColor": "#262626", "grid": false, "tickSize": -3, "labelPadding": 6, "titlePadding": 2, "labelOverlap": false, "labelFont": "Liberation Sans", "titleFont": "Liberation Sans"},
 "axisY": {"minExtent": 20, "maxExtent": 20},
 "text": {"font": "Liberation Sans"}
}
}
